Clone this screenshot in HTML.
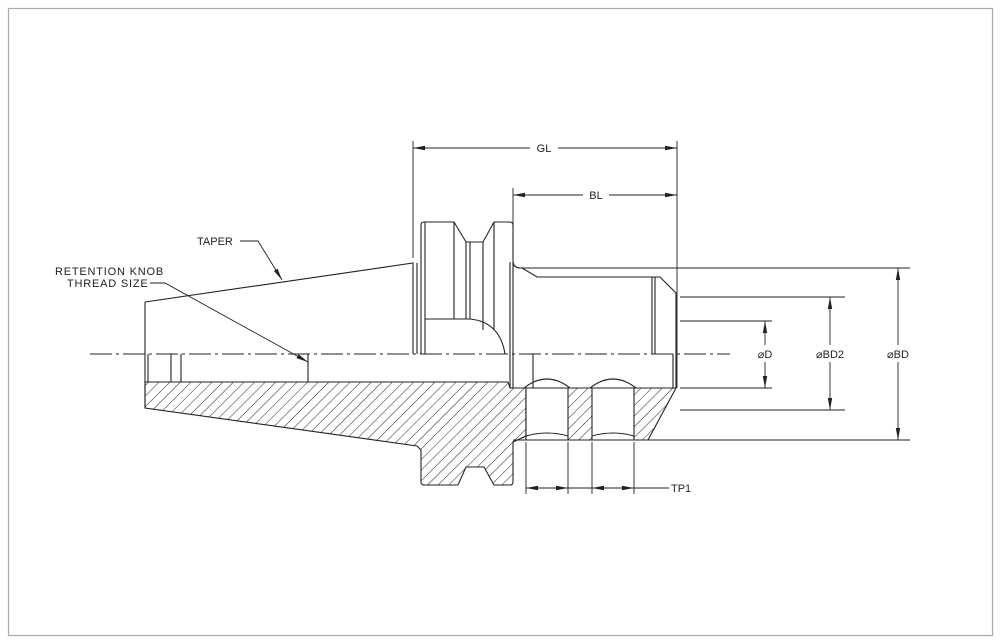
<!DOCTYPE html>
<html><head><style>
html,body{margin:0;padding:0;background:#fff;}
svg{display:block;}
text{font-family:"Liberation Sans",sans-serif;font-size:11px;fill:#222;}
</style></head><body>
<svg width="1001" height="644" viewBox="0 0 1001 644" xmlns="http://www.w3.org/2000/svg">
<defs>
<pattern id="h" patternUnits="userSpaceOnUse" width="7.5" height="7.5" patternTransform="rotate(45)">
<line x1="0" y1="0" x2="0" y2="7.5" stroke="#222" stroke-width="1"/>
</pattern>
<marker id="a" markerWidth="12" markerHeight="6" refX="12" refY="3" orient="auto" markerUnits="userSpaceOnUse">
<path d="M0,0.8 L12,3 L0,5.2z" fill="#222"/></marker>
</defs>
<rect x="8.5" y="8.5" width="984" height="627" fill="none" stroke="#aaa" stroke-width="1.2"/>
<g stroke="#222" stroke-width="1.1" fill="none">
<path d="M145,382 L508,382 L510,388 L526,388 L526,436 L513,442 L513,482 Q513,485 510,485 L494,485 L484,467 L466,467 L458,485 L424,485 Q421,485 421,482 L421,450 L417,446 L145,408 Z" fill="url(#h)"/>
<path d="M526,388 L676,388 L648,440 L526,440 Z" fill="url(#h)"/>
<path d="M526,388 L568,388 L568,440 L526,440 Z" fill="#fff"/>
<path d="M592,388 L634,388 L634,440 L592,440 Z" fill="#fff"/>
<path d="M524,388 Q547,370 570,388 M590,388 Q613,370 636,388"/>
<path d="M526,436 Q547,430 568,436 M592,436 Q613,430 634,436"/>
<path d="M145,302 L413,263 L413,354"/>
<path d="M145,302 L145,408"/>
<path d="M148,354 L148,382 M171,354 L171,382 M181,354 L181,382 M308,354 L308,382"/>
<path d="M417,263 L417,354 M421,225 Q421,222 424,222 L454,222 L466,242 L483,242 L494,222 L510,222 Q513,222 513,226 L513,262"/>
<path d="M421,225 L421,354 M425,222 L425,354"/>
<path d="M454,222 L454,319 M466,242 L466,319 M470,242 L470,319 M483,242 L483,330 M494,222 L494,330"/>
<path d="M425,319 L470,319 Q500,322 505,354"/>
<path d="M510,262 L510,388 M513,262 L513,388"/>
<path d="M513,262 Q514,268 520,268 L676,268 M522,268 L537,277 L660,277 L676,293 L676,388"/>
<path d="M652,277 L652,354 M655,277 L655,354"/>
<path d="M533,354 L533,388 M673,354 L673,388"/>
</g>
<line x1="90" y1="354" x2="730" y2="354" stroke="#222" stroke-width="1" stroke-dasharray="22,4,3,4"/>
<g stroke="#222" stroke-width="0.9" fill="none">
<path d="M413,141 L413,258 M513,188 L513,258 M677,141 L677,388"/>
<path d="M676,268 L910,268 M680,297 L845,297 M680,321 L772,321 M680,388 L772,388 M680,410 L845,410 M648,440 L910,440 M513,440 L526,440"/>
<path d="M526,442 L526,494 M568,442 L568,494 M592,442 L592,494 M634,442 L634,494"/>
<line x1="530" y1="148" x2="413" y2="148" marker-end="url(#a)"/>
<line x1="558" y1="148" x2="677" y2="148" marker-end="url(#a)"/>
<line x1="583" y1="195" x2="513" y2="195" marker-end="url(#a)"/>
<line x1="609" y1="195" x2="677" y2="195" marker-end="url(#a)"/>
<line x1="765" y1="345" x2="765" y2="321" marker-end="url(#a)"/>
<line x1="765" y1="362" x2="765" y2="388" marker-end="url(#a)"/>
<line x1="830" y1="345" x2="830" y2="297" marker-end="url(#a)"/>
<line x1="830" y1="362" x2="830" y2="410" marker-end="url(#a)"/>
<line x1="898" y1="345" x2="898" y2="268" marker-end="url(#a)"/>
<line x1="898" y1="362" x2="898" y2="440" marker-end="url(#a)"/>
<line x1="547" y1="488" x2="526" y2="488" marker-end="url(#a)"/>
<line x1="547" y1="488" x2="568" y2="488" marker-end="url(#a)"/>
<line x1="613" y1="488" x2="592" y2="488" marker-end="url(#a)"/>
<line x1="613" y1="488" x2="634" y2="488" marker-end="url(#a)"/>
<line x1="568" y1="488" x2="592" y2="488"/>
<line x1="634" y1="488" x2="669" y2="488"/>
<path d="M240,241 L258,241 L282,280" marker-end="url(#a)"/>
<path d="M150,283 L165,283 L308,362" marker-end="url(#a)"/>
</g>
<text x="544" y="152" text-anchor="middle">GL</text>
<text x="596" y="199" text-anchor="middle">BL</text>
<text x="765" y="358" text-anchor="middle">⌀D</text>
<text x="830" y="358" text-anchor="middle">⌀BD2</text>
<text x="898" y="358" text-anchor="middle">⌀BD</text>
<text x="671" y="492">TP1</text>
<text x="197" y="245">TAPER</text>
<text x="55" y="275" letter-spacing="0.8">RETENTION KNOB</text>
<text x="67" y="287" letter-spacing="0.8">THREAD SIZE</text>
</svg>
</body></html>
